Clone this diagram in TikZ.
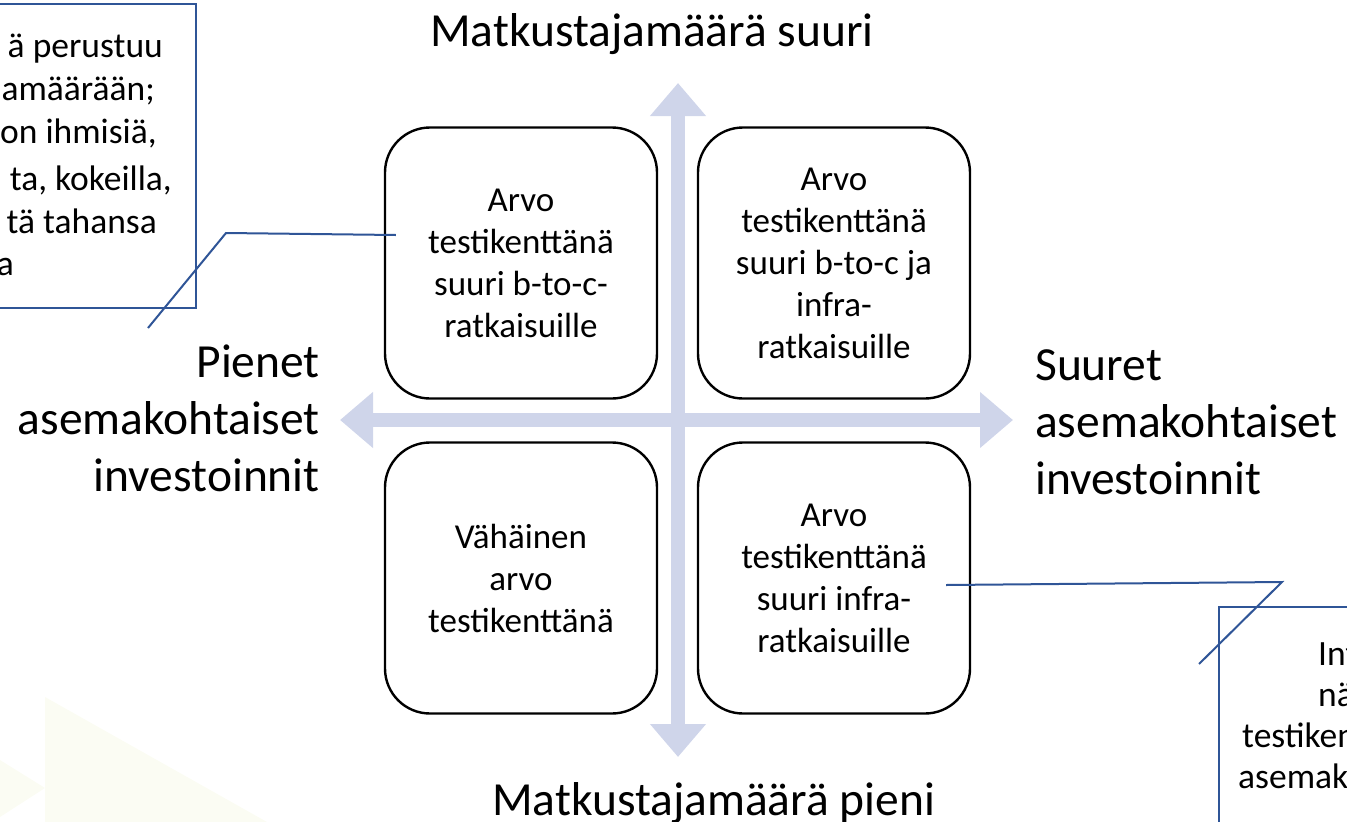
\documentclass[tikz,border=0pt]{standalone}
\usepackage{fontspec}
\setmainfont{Carlito}
\usepackage{tikz}
\usetikzlibrary{calc, arrows.meta}
\definecolor{axisblue}{RGB}{207,213,234}
\definecolor{noteblue}{RGB}{47,85,151}
\definecolor{faintbg}{RGB}{251,252,243}
\tikzset{
    cell/.style={rectangle, draw=black, line width=2.4pt, fill=white, rounded corners=45pt, minimum width=272pt, minimum height=271pt, align=center, inner sep=0pt, font=\fontsize{35}{42}\selectfont},
    axis/.style={axisblue, line width=14pt, {Triangle[length=33pt, width=54pt]}-{Triangle[length=33pt, width=54pt]}},
    title/.style={inner sep=0pt, font=\fontsize{47.5}{57}\selectfont},
    note/.style={rectangle, draw=noteblue, line width=2pt, inner sep=0pt},
    notetext/.style={inner sep=0pt, font=\fontsize{35.5}{42}\selectfont},
    pointer/.style={draw=noteblue, line width=2pt}
}

\begin{document}
\begin{tikzpicture}[x=1pt, y=-1pt]
        \useasboundingbox (0,0) rectangle (1347,822);

        % Background shapes
        \fill[faintbg] (45,697) -- (45,822) -- (267,822) -- cycle;
        \fill[faintbg] (0,760) -- (45,788) -- (0,817) -- cycle;

        % Axes
        \coordinate (N) at (678,83);
        \coordinate (S) at (678,757);
        \coordinate (W) at (340,420);
        \coordinate (E) at (1013,420);
        \draw[axis] (W) -- (E);
        \draw[axis] (S) -- (N);

        % Quadrants
        \node[cell] (TL) at (521,263) {Arvo\\testikenttänä\\suuri b-to-c-\\ratkaisuille};
        \node[cell] (TR) at (834,263) {Arvo\\testikenttänä\\suuri b-to-c ja\\infra-\\ratkaisuille};
        \node[cell] (BL) at (521,578) {Vähäinen\\arvo\\testikenttänä};
        \node[cell] (BR) at (834,578) {Arvo\\testikenttänä\\suuri infra-\\ratkaisuille};

        % Axis labels
        \node[title, anchor=base west] (Top) at (430,46) {Matkustajamäärä suuri};
        \node[title, anchor=base west] (Bottom) at (492,815) {Matkustajamäärä pieni};
        \node[title, align=right, anchor=base east] (Left) at (320,491) {Pienet\\asemakohtaiset\\investoinnit};
        \node[title, align=left, anchor=base west] (Right) at (1035,494) {Suuret\\asemakohtaiset\\investoinnit};

        % Callouts
        \node[note, minimum width=420pt, minimum height=304pt, anchor=north east] (NoteL) at (197,3) {};
        \foreach \txt/\x/\y in {ä perustuu/163/57, amäärään;/155/100, {on ihmisiä,}/157/143, {ta, kokeilla,}/172/190, tä tahansa/157/233, a/14/275}
            \node[notetext, anchor=base east] at (\x,\y) {\txt};

        \node[note, minimum width=300pt, minimum height=300pt, anchor=north west] (NoteR) at (1218,606) {};
        \foreach \txt/\x/\y in {Inf/1318/665, nä/1318/706, testiken/1242/747, asemak/1238/788}
            \node[notetext, anchor=base west] at (\x,\y) {\txt};

        % Pointers
        \coordinate (tipL) at (148,328);
        \coordinate (bendL) at (226,233);
        \draw[pointer] (tipL) -- (bendL) -- ($(TL.west)+(12,-28)$);
        \coordinate (bendR) at (1282,582);
        \coordinate (tipR) at (1199,664);
        \draw[pointer] ($(BR.east)+(-25,7)$) -- (bendR) -- (tipR);
\end{tikzpicture}
\end{document}
